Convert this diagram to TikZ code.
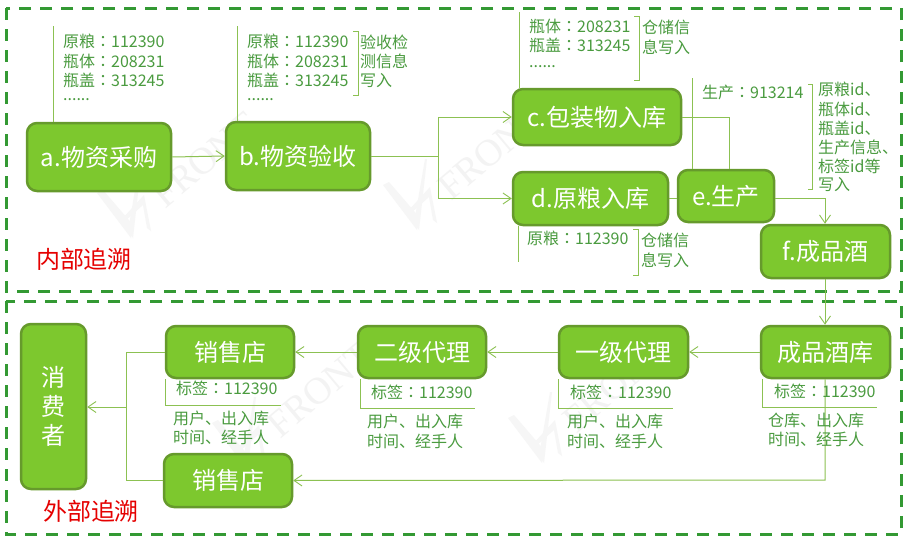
\documentclass[tikz,border=0pt]{standalone}
\usepackage{fontspec}
\setmainfont{Noto Sans CJK SC}
\newfontfamily\tcfont{Noto Sans CJK TC}
\newfontfamily\wmfont{Liberation Serif}
\newcommand{\cln}{{\tcfont ：}}
\usetikzlibrary{arrows.meta}
\definecolor{boxfill}{HTML}{7DC82E}
\definecolor{boxedge}{HTML}{669A2C}
\definecolor{framegreen}{HTML}{339933}
\definecolor{linkgreen}{HTML}{8CC152}
\definecolor{notegreen}{HTML}{4A9B3F}
\definecolor{wmgrey}{HTML}{F3F3F3}
\definecolor{wmlight}{HTML}{F6F6F6}
\tikzset{
  stage/.style={draw=boxedge,fill=boxfill,line width=2.5pt,rounded corners=10pt,text=white,font=\fontsize{24}{28}\selectfont,inner sep=0pt,align=center},
  frame/.style={draw=framegreen,line width=3pt,dash pattern=on 12pt off 9pt},
  link/.style={draw=linkgreen,line width=1pt},
  flow/.style={link,-{Straight Barb[length=8pt,width=11pt,line width=0.9pt]}},
  note/.style={text=notegreen,font=\fontsize{16}{19.3}\selectfont,anchor=west,inner sep=0pt,align=left},
  title/.style={text=red!90!black,font=\fontsize{24}{28}\selectfont,inner sep=0pt},
  wmark/.style={text=wmgrey,font=\wmfont\fontsize{38}{40}\selectfont,rotate=40,inner sep=0pt}
}
\newcommand{\wmlogo}[2]{%
  \begin{scope}[shift={(#1,#2)}]
    \fill[wmlight] (0,-2) -- (6,-5) -- (37,31) -- (34,43) -- cycle;
    \fill[wmlight] (31,36) -- (42,-28) -- (44,-28) -- (36,43) -- cycle;
    \fill[wmlight] (25,24) -- (47,0) -- (54,36) -- (50,33) -- (46,10) -- (27,27) -- cycle;
  \end{scope}}
\begin{document}
\begin{tikzpicture}[x=1pt,y=-1pt]
\useasboundingbox (0,0) rectangle (906,546);
\fill[white] (0,0) rectangle (906,546);
% watermark
\wmlogo{97}{195}
\wmlogo{383}{187}
\wmlogo{212}{425}
\wmlogo{508}{420}
\node[wmark] (w1) at (205,160) {FRONT};
\node[wmark] (w2) at (491,152) {FRONT};
\node[wmark] (w3) at (320,390) {FRONT};
\node[wmark] (w4) at (616,385) {FRONT};
% frames
\draw[frame] (6,8) rectangle (901,291);
\draw[frame] (6,301) rectangle (901,534);
% leader coordinates
\coordinate (la) at (53,26);
\coordinate (lb) at (237,26);
\coordinate (lc) at (519,12);
\coordinate (le) at (692,78);
\coordinate (ld) at (518,262);
% stages
\node[stage,minimum width=144pt,minimum height=68pt] (a) at (99,157) {a.物资采购};
\node[stage,minimum width=144pt,minimum height=68pt] (b) at (298,156) {b.物资验收};
\node[stage,minimum width=168pt,minimum height=56pt] (c) at (597,117) {c.包装物入库};
\node[stage,minimum width=155pt,minimum height=53pt] (d) at (590.5,198.5) {d.原粮入库};
\node[stage,minimum width=96pt,minimum height=52pt] (e) at (726,196) {e.生产};
\node[stage,minimum width=129pt,minimum height=53pt] (f) at (825.5,251.5) {f.成品酒};
\node[stage,minimum width=129pt,minimum height=52pt] (k) at (825.5,352) {成品酒库};
\node[stage,minimum width=129pt,minimum height=52pt] (g1) at (623.5,352) {一级代理};
\node[stage,minimum width=128pt,minimum height=52pt] (g2) at (422,352) {二级代理};
\node[stage,minimum width=128pt,minimum height=52pt] (s1) at (230,352) {销售店};
\node[stage,minimum width=128pt,minimum height=53pt] (s2) at (228,480.5) {销售店};
\node[stage,minimum width=65pt,minimum height=165pt,font=\fontsize{24}{29}\selectfont] (u) at (53.5,406.5) {消\\费\\者};
% junction coordinates
\coordinate (jb) at (438,156);
\coordinate (jc) at (729,117);
\coordinate (je) at (825,198);
\coordinate (jk) at (825,480);
\coordinate (ju) at (126,407);
% connectors
\draw[flow] (a.east) -- (b.west);
\draw[link] (b.east) -- (jb);
\draw[flow] (jb) |- (c.west);
\draw[flow] (jb) |- (d.west);
\draw[link] (c.east) -| (e.north -| jc);
\draw[link] (d.east) -- (e.west |- d.east);
\draw[flow] (e.east |- je) -- (je) -- (f.north -| je);
\draw[flow] (f.south -| je) -- (k.north -| je);
\draw[flow] (k.west) -- (g1.east);
\draw[flow] (g1.west) -- (g2.east);
\draw[flow] (g2.west) -- (s1.east);
\draw[flow] (k.south -| jk) -- (jk) -- (s2.east);
\draw[link] (s1.west) -| (ju);
\draw[link] (s2.west) -| (ju);
\draw[flow] (ju) -- (u.east |- ju);
% leaders
\draw[link] (a.north -| la) -- (la);
\draw[link] (b.north -| lb) -- (lb);
\draw[link] (c.north -| lc) -- (lc);
\draw[link] (e.north -| le) -- (le);
\draw[link] (d.south -| ld) -- (ld);
\draw[link] (s1.south west) ++(1,0) -- ++(0,26) -- ++(115,0);
\draw[link] (g2.south west) ++(4,0) -- ++(0,29) -- ++(114,0);
\draw[link] (g1.south west) ++(1,0) -- ++(0,29) -- ++(114,0);
\draw[link] (k.south west) ++(3,0) -- ++(0,28) -- ++(114,0);
% brackets
\draw[link] (353,31) -- (358,31) -- (358,95) -- (353,95);
\draw[link] (634,16) -- (639,16) -- (639,80) -- (634,80);
\draw[link] (808,84) -- (812,84) -- (812,189) -- (808,189);
\draw[link] (633,229) -- (638,229) -- (638,275) -- (633,275);
% notes a
\node[note] (na1) at (63,41) {原粮\cln 112390};
\node[note] (na2) at (63,61) {瓶体\cln 208231};
\node[note] (na3) at (63,80) {瓶盖\cln 313245};
\node[note] (na4) at (63,100) {......};
% notes b
\node[note] (nb1) at (247,41) {原粮\cln 112390};
\node[note] (nb2) at (247,61) {瓶体\cln 208231};
\node[note] (nb3) at (247,80) {瓶盖\cln 313245};
\node[note] (nb4) at (247,100) {......};
\node[note] (nb5) at (360,42) {验收检};
\node[note] (nb6) at (360,61) {测信息};
\node[note] (nb7) at (360,81) {写入};
% notes c
\node[note] (nc1) at (529,26) {瓶体\cln 208231};
\node[note] (nc2) at (529,45) {瓶盖\cln 313245};
\node[note] (nc3) at (529,67) {......};
\node[note] (nc4) at (642,27) {仓储信};
\node[note] (nc5) at (642,47) {息写入};
% notes e
\node[note] (ne0) at (702,92) {生产\cln 913214};
\node[note] (ne1) at (818,89) {原粮id、};
\node[note] (ne2) at (818,109) {瓶体id、};
\node[note] (ne3) at (818,128) {瓶盖id、};
\node[note] (ne4) at (818,147) {生产信息、};
\node[note] (ne5) at (818,166) {标签id等};
\node[note] (ne6) at (818,185) {写入};
% notes d
\node[note] (nd1) at (527,238) {原粮\cln 112390};
\node[note] (nd2) at (641,240) {仓储信};
\node[note] (nd3) at (641,260) {息写入};
% notes lower
\node[note] (ns1) at (176,388) {标签\cln 112390};
\node[note] (ns2) at (173,418) {用户、出入库};
\node[note] (ns3) at (173,437) {时间、经手人};
\node[note] (nt1) at (371,392) {标签\cln 112390};
\node[note] (nt2) at (367,421) {用户、出入库};
\node[note] (nt3) at (367,441) {时间、经手人};
\node[note] (nf1) at (570,392) {标签\cln 112390};
\node[note] (nf2) at (567,421) {用户、出入库};
\node[note] (nf3) at (567,441) {时间、经手人};
\node[note] (nk1) at (774,391) {标签\cln 112390};
\node[note] (nk2) at (768,420) {仓库、出入库};
\node[note] (nk3) at (768,439) {时间、经手人};
% titles
\node[title] (t1) at (84,259) {内部追溯};
\node[title] (t2) at (91,511) {外部追溯};
\end{tikzpicture}
\end{document}
